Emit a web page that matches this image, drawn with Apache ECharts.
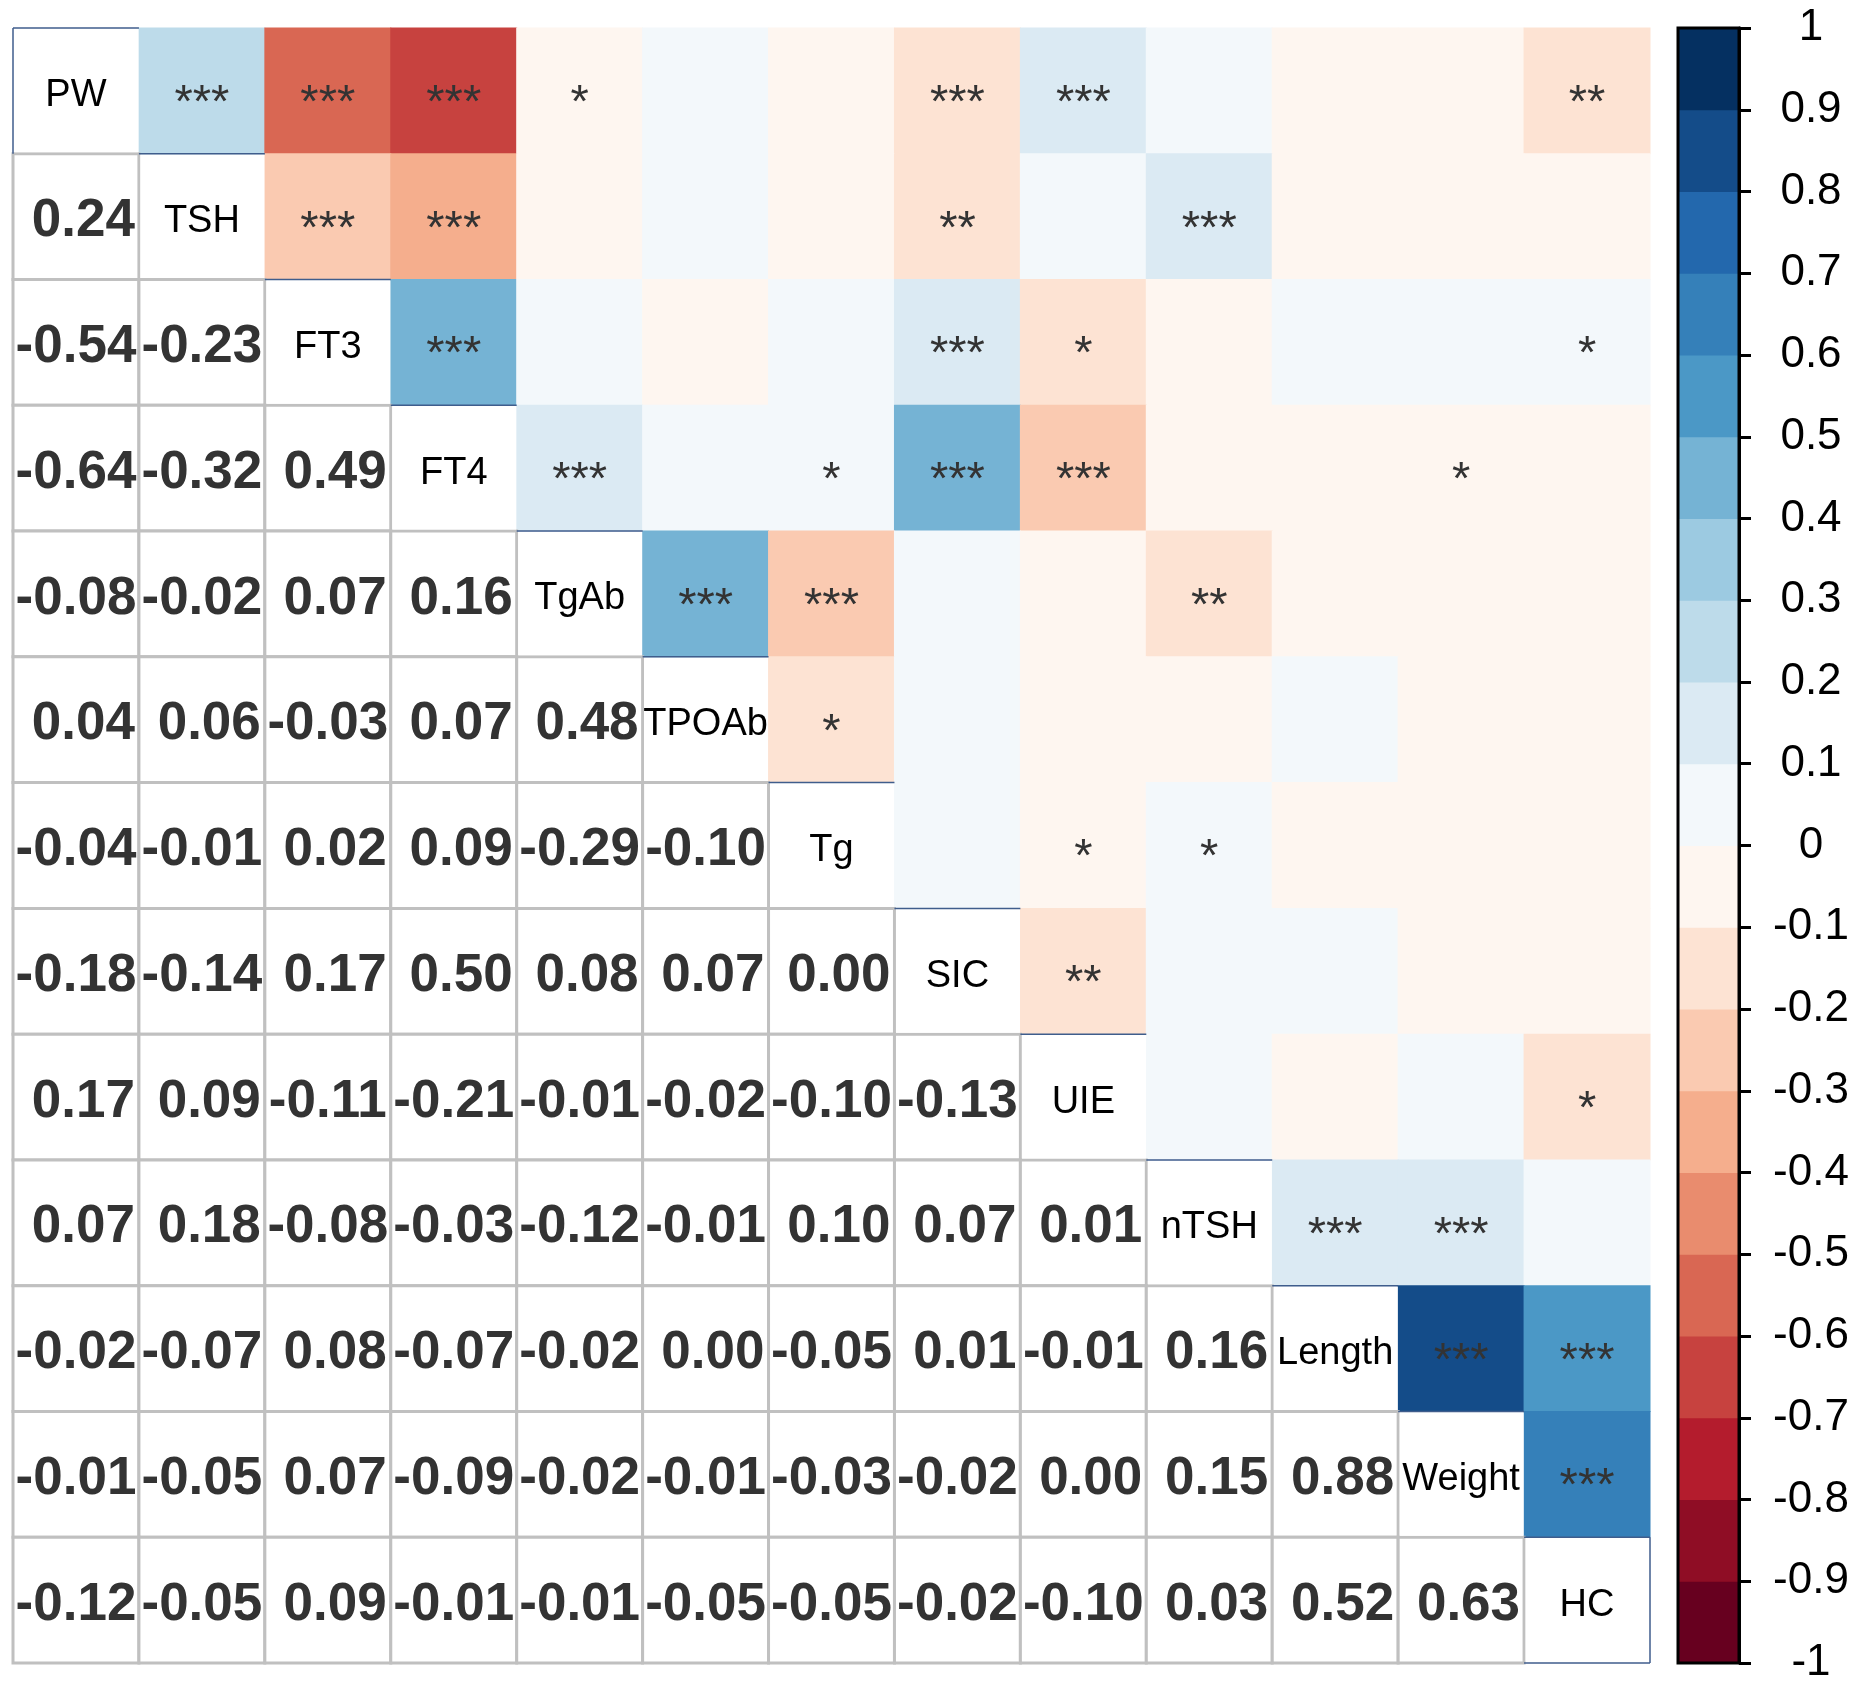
<!DOCTYPE html>
<html>
<head>
<meta charset="utf-8">
<title>Correlation matrix</title>
<script src="https://cdn.jsdelivr.net/npm/echarts@6/dist/echarts.min.js"></script>
<style>
  html, body { margin: 0; padding: 0; background: #fff; }
  #chart { width: 1861px; height: 1692px; }
</style>
</head>
<body>
<div id="chart"></div>
<script>
// variables, in matrix order (top to bottom, left to right)
const vars = ['PW', 'TSH', 'FT3', 'FT4', 'TgAb', 'TPOAb', 'Tg', 'SIC', 'UIE', 'nTSH', 'Length', 'Weight', 'HC'];

// lower triangle: row i holds r(i, 0..i-1)
// a third decimal only where the cell colour shows which side of a bin edge the value is on
const corrLower = [
  [],
  [0.24],
  [-0.54, -0.23],
  [-0.64, -0.32, 0.49],
  [-0.08, -0.02, 0.07, 0.16],
  [0.04, 0.06, -0.03, 0.07, 0.48],
  [-0.04, -0.01, 0.02, 0.09, -0.29, -0.104],
  [-0.18, -0.14, 0.17, 0.498, 0.08, 0.07, 0.003],
  [0.17, 0.09, -0.11, -0.21, -0.01, -0.02, -0.098, -0.13],
  [0.07, 0.18, -0.08, -0.03, -0.12, -0.01, 0.098, 0.07, 0.01],
  [-0.02, -0.07, 0.08, -0.07, -0.02, 0.002, -0.05, 0.01, -0.01, 0.16],
  [-0.01, -0.05, 0.07, -0.09, -0.02, -0.01, -0.03, -0.02, 0.001, 0.15, 0.88],
  [-0.12, -0.05, 0.09, -0.01, -0.01, -0.05, -0.05, -0.02, -0.104, 0.03, 0.52, 0.63]
];

// significance stars, upper triangle: row i holds columns i+1..12
const stars = [
  ['***', '***', '***', '*', '', '', '***', '***', '', '', '', '**'],
  ['***', '***', '', '', '', '**', '', '***', '', '', ''],
  ['***', '', '', '', '***', '*', '', '', '', '*'],
  ['***', '', '*', '***', '***', '', '', '*', ''],
  ['***', '***', '', '', '**', '', '', ''],
  ['*', '', '', '', '', '', ''],
  ['', '*', '*', '', '', ''],
  ['**', '', '', '', ''],
  ['', '', '', '*'],
  ['***', '***', ''],
  ['***', '***'],
  ['***'],
  []
];

// colour bar ticks and the 20 bin colours (from -1 up to 1)
const barTicks = [-1, -0.9, -0.8, -0.7, -0.6, -0.5, -0.4, -0.3, -0.2, -0.1, 0,
                  0.1, 0.2, 0.3, 0.4, 0.5, 0.6, 0.7, 0.8, 0.9, 1];
const palette = [
  '#67001F', '#8F0D25', '#B41C2D', '#C7423F', '#D96753',
  '#E98C6E', '#F5AE8D', '#FACAB1', '#FDE3D3', '#FEF6F0',
  '#F3F8FB', '#DBEAF3', '#BDDBEA', '#9CCAE1', '#75B3D4',
  '#4B98C6', '#3580B9', '#2368AD', '#144C89', '#053061'
];

function binOf(r) {
  for (let k = 0; k < barTicks.length - 1; k++) {
    if (r >= barTicks[k] && r < barTicks[k + 1]) return k;
  }
  return r < 0 ? 0 : palette.length - 1;
}

// cells built from the arrays above
const upperCells = [];
const lowerCells = [];
const diagCells = [];
vars.forEach((name, i) => {
  diagCells.push({ x: i, y: i, name: name });
  for (let j = 0; j < i; j++) {
    lowerCells.push({ x: j, y: i, r: corrLower[i][j] });
  }
  for (let j = i + 1; j < vars.length; j++) {
    upperCells.push({ x: j, y: i, r: corrLower[j][i], stars: stars[i][j - i - 1] });
  }
});

const FONT = 'Liberation Sans, Arial, sans-serif';

// positive numbers get a leading space, like R pads them to the width of negatives
function numText(r) {
  return (r < 0 ? '' : ' ') + r.toFixed(2);
}

function cellBox(api) {
  const c = api.coord([api.value(0), api.value(1)]);
  const s = api.size([1, 1]);
  return { x: c[0] - s[0] / 2, y: c[1] - s[1] / 2, w: s[0], h: s[1], cx: c[0], cy: c[1] };
}

const myChart = echarts.init(document.getElementById('chart'), null, { renderer: 'canvas' });

const option = {
  backgroundColor: '#ffffff',
  animation: false,
  grid: [
    { left: 13, top: 28, width: 1637, height: 1635 },
    { left: 1678, top: 28, width: 61, height: 1635 }
  ],
  xAxis: [
    { type: 'category', data: vars, gridIndex: 0, show: false },
    { type: 'value', min: 0, max: 1, gridIndex: 1, show: false }
  ],
  yAxis: [
    { type: 'category', data: vars, gridIndex: 0, inverse: true, show: false },
    {
      type: 'value', gridIndex: 1, min: -1, max: 1, interval: 0.1, position: 'right',
      axisLine: { show: true, onZero: false, lineStyle: { color: '#000', width: 3 } },
      axisTick: { show: true, inside: false, length: 12, lineStyle: { color: '#000', width: 3 } },
      splitLine: { show: false },
      axisLabel: {
        color: '#000', fontSize: 44, fontFamily: FONT, align: 'center', margin: 72,
        showMinLabel: true, showMaxLabel: true,
        formatter: v => String(+(+v).toFixed(1))
      }
    }
  ],
  series: [
    {
      // upper triangle: coloured squares with stars
      type: 'custom', xAxisIndex: 0, yAxisIndex: 0, z: 2,
      data: upperCells.map(c => [c.x, c.y, c.r]),
      renderItem: (params, api) => {
        const b = cellBox(api);
        const cell = upperCells[params.dataIndex];
        return {
          type: 'group',
          children: [
            { type: 'rect', shape: { x: b.x - 0.5, y: b.y - 0.5, width: b.w + 1, height: b.h + 1 },
              style: { fill: palette[binOf(cell.r)] } },
            { type: 'text', style: { text: cell.stars, x: b.cx, y: b.cy + 13, fill: '#333333',
              font: '47px ' + FONT, align: 'center', verticalAlign: 'middle' } }
          ]
        };
      }
    },
    {
      // lower triangle: numbers in grey-bordered cells
      type: 'custom', xAxisIndex: 0, yAxisIndex: 0, z: 3,
      data: lowerCells.map(c => [c.x, c.y, c.r]),
      renderItem: (params, api) => {
        const b = cellBox(api);
        const cell = lowerCells[params.dataIndex];
        return {
          type: 'group',
          children: [
            { type: 'rect', shape: { x: b.x, y: b.y, width: b.w, height: b.h },
              style: { fill: '#ffffff', stroke: '#c0c0c0', lineWidth: 3 } },
            { type: 'text', style: { text: numText(cell.r), x: b.cx, y: b.cy + 5, fill: '#333333',
              font: 'bold 53px ' + FONT, align: 'center', verticalAlign: 'middle' } }
          ]
        };
      }
    },
    {
      // diagonal: variable names
      type: 'custom', xAxisIndex: 0, yAxisIndex: 0, z: 4,
      data: diagCells.map(c => [c.x, c.y]),
      renderItem: (params, api) => {
        const b = cellBox(api);
        const cell = diagCells[params.dataIndex];
        const last = diagCells.length - 1;
        const edge = { stroke: '#3f5d8c', lineWidth: 1.5 };
        const children = [
          { type: 'rect', shape: { x: b.x + 1.5, y: b.y + 1, width: b.w - 2, height: b.h - 2.5 },
            style: { fill: '#ffffff' } },
          { type: 'text', style: { text: cell.name, x: b.cx, y: b.cy + 5, fill: '#000000',
            font: '38px ' + FONT, align: 'center', verticalAlign: 'middle' } },
          { type: 'line', shape: { x1: b.x, y1: b.y, x2: b.x + b.w, y2: b.y }, style: edge }
        ];
        if (params.dataIndex === 0) {
          children.push({ type: 'line', shape: { x1: b.x, y1: b.y, x2: b.x, y2: b.y + b.h }, style: edge });
        }
        if (params.dataIndex === last) {
          children.push({ type: 'line', shape: { x1: b.x + b.w, y1: b.y, x2: b.x + b.w, y2: b.y + b.h }, style: edge });
          children.push({ type: 'line', shape: { x1: b.x, y1: b.y + b.h, x2: b.x + b.w, y2: b.y + b.h }, style: edge });
        }
        return { type: 'group', children: children };
      }
    },
    {
      // colour bar bins
      type: 'custom', xAxisIndex: 1, yAxisIndex: 1, z: 2,
      data: palette.map((c, k) => [barTicks[k], barTicks[k + 1]]),
      renderItem: (params, api) => {
        const p1 = api.coord([0, api.value(0)]);
        const p2 = api.coord([1, api.value(1)]);
        return {
          type: 'rect',
          shape: { x: p1[0], y: p2[1] - 0.5, width: p2[0] - p1[0], height: p1[1] - p2[1] + 1 },
          style: { fill: palette[params.dataIndex] }
        };
      }
    },
    {
      // colour bar frame
      type: 'custom', xAxisIndex: 1, yAxisIndex: 1, z: 3,
      data: [[barTicks[0], barTicks[barTicks.length - 1]]],
      renderItem: (params, api) => {
        const p1 = api.coord([0, api.value(0)]);
        const p2 = api.coord([1, api.value(1)]);
        return {
          type: 'rect',
          shape: { x: p1[0], y: p2[1], width: p2[0] - p1[0], height: p1[1] - p2[1] },
          style: { fill: 'none', stroke: '#000', lineWidth: 3 }
        };
      }
    }
  ]
};

myChart.setOption(option);
</script>
</body>
</html>
